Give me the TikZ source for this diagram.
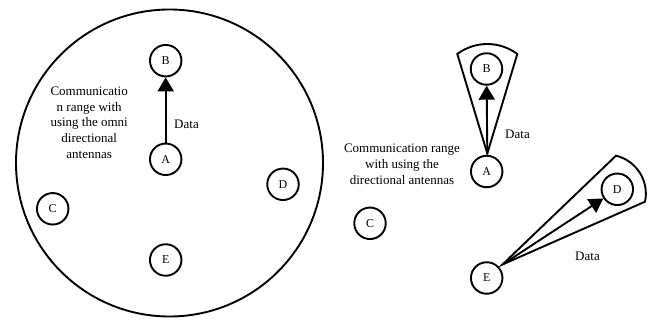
\documentclass[tikz,border=0pt]{standalone}
\usepackage{fontspec}
\setmainfont{Liberation Serif}
\usetikzlibrary{arrows.meta,calc}
\begin{document}
\begin{tikzpicture}[x=1pt,y=-1pt,
  stn/.style={draw,circle,line width=1.9pt,minimum size=31.5pt,inner sep=0pt,font=\fontsize{12}{14}\selectfont},
  lbl/.style={font=\fontsize{13}{15.7}\selectfont,align=center,inner sep=0pt},
  link/.style={line width=1.9pt,-{Triangle[length=14pt,width=16pt]}},
  beam/.style={line width=1.9pt,line join=miter}]
\useasboundingbox (0,0) rectangle (654,320);
% left: omni directional
\node[draw,circle,line width=1.9pt,minimum size=307pt,inner sep=0pt] (range) at (169.5,163) {};
\node[stn] (lB) at (165.7,60.7) {B};
\node[stn] (lA) at (165.7,159.3) {A};
\node[stn] (lD) at (283,184.3) {D};
\node[stn] (lC) at (52.7,208.8) {C};
\node[stn] (lE) at (165.7,260) {E};
\draw[link] (lA) -- (lB);
\node[lbl] (ldata) at (186.5,124) {Data};
\node[lbl] (ltext) at (89.2,122.5) {Communicatio\\n range with\\using the omni\\directional\\antennas};
% right: directional
\node[stn] (rB) at (486.5,69) {B};
\node[stn] (rA) at (486.7,171.5) {A};
\node[stn] (rC) at (370,223.3) {C};
\node[stn] (rD) at (617.3,189.3) {D};
\node[stn] (rE) at (486.7,278) {E};
\coordinate (apA) at (487.3,153.5);
\coordinate (apE) at (502.5,264.5);
\draw[beam] (apA) -- (457.3,54) .. controls (475.1,40.7) and (499.5,40.7) .. (517.3,54) -- cycle;
\draw[beam] (apE) -- (616,155.7) .. controls (636.5,160.7) and (649.4,181) .. (645,201.7) -- cycle;
\draw[link] (apA) -- (rB);
\draw[link] (apE) -- (rD);
\node[lbl] (rdata1) at (517.5,134.3) {Data};
\node[lbl] (rdata2) at (587.5,256.7) {Data};
\node[lbl] (rtext) at (402,164.3) {Communication range\\with using the\\directional antennas};
\end{tikzpicture}
\end{document}
